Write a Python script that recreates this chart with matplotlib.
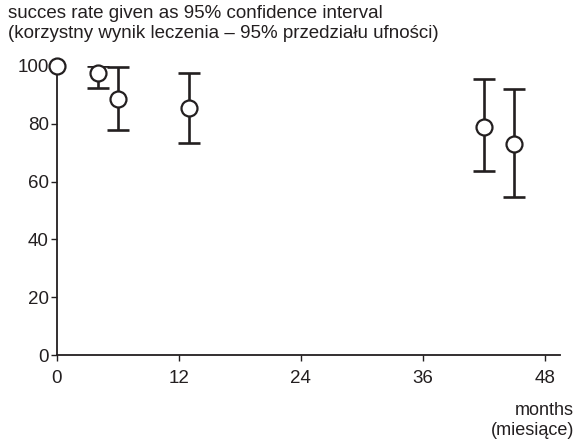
import matplotlib
matplotlib.use("Agg")
import matplotlib.pyplot as plt
import numpy as np

plt.rcParams['font.family'] = ['Liberation Sans', 'DejaVu Sans']

months = [0, 4, 6, 13, 42, 45]
rate = [100, 97.5, 88.5, 85.5, 79, 73]
upper = [100, 100, 99.5, 97.5, 95.5, 92]
lower = [100, 92.5, 78, 73.5, 63.5, 54.5]

x_ticks = [0, 12, 24, 36, 48]
y_ticks = [0, 20, 40, 60, 80, 100]

title_lines = ["succes rate given as 95% confidence interval",
               "(korzystny wynik leczenia \u2013 95% przedziału ufności)"]
xlabel_lines = ["months", "(miesiące)"]

ink = '#231f20'
fs = 13.5

fig = plt.figure(figsize=(5.76, 4.4), dpi=100)
ax = fig.add_axes([57/576, 1-355/440, (560-57)/576, (355-66)/440])

rate_a = np.array(rate)
yerr = np.array([rate_a - np.array(lower), np.array(upper) - rate_a])
ax.errorbar(months[1:], rate[1:], yerr=yerr[:, 1:], fmt='none', ecolor=ink,
            elinewidth=1.9, capsize=8, capthick=1.9, zorder=2)
ax.plot(months, rate, linestyle='none', marker='o', markersize=11.5,
        markerfacecolor='white', markeredgecolor=ink, markeredgewidth=1.6,
        zorder=3, clip_on=False)

ax.set_xlim(0, 49.5)
ax.set_ylim(0, 100)
ax.set_xticks(x_ticks)
ax.set_yticks(y_ticks)
ax.spines['top'].set_visible(False)
ax.spines['right'].set_visible(False)
for s in ['left', 'bottom']:
    ax.spines[s].set_linewidth(1.3)
    ax.spines[s].set_color(ink)
ax.tick_params(direction='out', length=4, width=1.0, color=ink,
               labelsize=fs, labelcolor=ink)
ax.tick_params(axis='x', pad=7)
ax.tick_params(axis='y', pad=2)

fig.text(8/576, 1-13/440, title_lines[0], fontsize=fs, color=ink, va='center', ha='left')
fig.text(8/576, 1-33/440, title_lines[1], fontsize=fs, color=ink, va='center', ha='left')
fig.text(574/576, 1-410/440, xlabel_lines[0], fontsize=13, color=ink, va='center', ha='right')
fig.text(574/576, 1-430/440, xlabel_lines[1], fontsize=13, color=ink, va='center', ha='right')

fig.savefig("out.png", dpi=100)
